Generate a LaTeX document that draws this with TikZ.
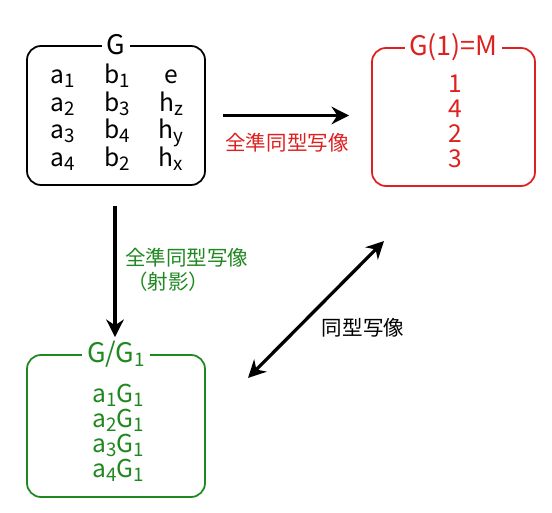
\documentclass[tikz,border=0pt]{standalone}
\usepackage{fontspec}
\usepackage{array}
\setmainfont{Noto Sans CJK JP}
\usetikzlibrary{arrows.meta,positioning}
\definecolor{mapred}{RGB}{222,32,32}
\definecolor{mapgreen}{RGB}{32,136,32}
\newcommand{\idx}[1]{\raisebox{-0.3ex}{\fontsize{16pt}{16pt}\selectfont #1}}

\begin{document}
\begin{tikzpicture}[
  x=0.03cm, y=-0.03cm,
  >={Stealth[length=15pt,width=15pt]},
% group boxes with their titles set into the top edge
  grpbox/.style={
    draw,
    rounded corners=0.42cm,
    line width=1.5pt
  },
  grptitle/.style={
    fill=white,
    inner xsep=4pt,
    inner ysep=0pt,
    font=\fontsize{23pt}{23pt}\selectfont
  },
  elems/.style={
    font=\fontsize{21pt}{21.3pt}\selectfont,
    align=center,
    inner sep=0pt
  },
% mappings
  maplabel/.style={
    font=\fontsize{17.5pt}{20pt}\selectfont
  },
  maparrow/.style={
    line width=2.8pt
  }
]
\useasboundingbox (0,0) rectangle (552,513);

  % The group G
  \node[grpbox, minimum width=5.34cm, minimum height=4.17cm] (G) at (116,115.5) {};
  \node[grptitle] (Gtitle) at (G.north) {G};
  \node[elems] (Gelems) at (117,119) {%
    \setlength{\tabcolsep}{0pt}%
    \begin{tabular}{w{c}{1.62cm}w{c}{1.62cm}w{c}{1.62cm}}
      a\idx{1} & b\idx{1} & e \\
      a\idx{2} & b\idx{3} & h\idx{z} \\
      a\idx{3} & b\idx{4} & h\idx{y} \\
      a\idx{4} & b\idx{2} & h\idx{x}
    \end{tabular}};

  % The image G(1)=M
  \node[grpbox, draw=mapred, minimum width=4.89cm, minimum height=4.14cm] (M) at (453.5,117) {};
  \node[grptitle, text=mapred] (Mtitle) at (M.north) {G(1)=M};
  \node[elems, text=mapred] (Melems) at (455,121) {1\\4\\2\\3};

  % The quotient G/G1
  \node[grpbox, draw=mapgreen, minimum width=5.34cm, minimum height=4.26cm] (Q) at (116,426) {};
  \node[grptitle, text=mapgreen] (Qtitle) at (Q.north) {G/G\idx{1}};
  \node[elems, text=mapgreen] (Qelems) at (118,432.5) {%
    a\idx{1}G\idx{1}\\a\idx{2}G\idx{1}\\a\idx{3}G\idx{1}\\a\idx{4}G\idx{1}};

  % Free ends of the isomorphism arrow
  \coordinate (isoM) at (384,241);
  \coordinate (isoQ) at (248,378);

  % Arrows
  \draw[maparrow, ->, shorten <=0.51cm, shorten >=0.66cm] (G.east) -- (G.east -| M.west);
  \draw[maparrow, ->, shorten <=0.6cm, shorten >=0.51cm] (G.south -| 115,0) -- (Q.north -| 115,0);
  \draw[maparrow, <->] (isoM) -- (isoQ);

  % Labels
  \node[maplabel, text=mapred] (homM) at (287,143) {全準同型写像};
  \node[maplabel, text=mapgreen, align=left, anchor=west] (homQ) at (121,270) {全準同型写像\\\hspace{2pt}（射影）};
  \node[maplabel] (iso) at (363,328) {同型写像};

\end{tikzpicture}
\end{document}
